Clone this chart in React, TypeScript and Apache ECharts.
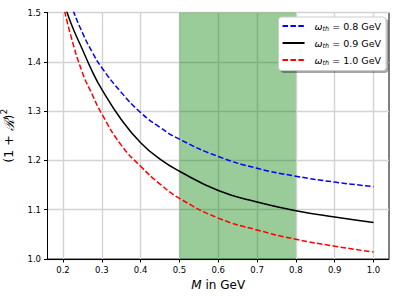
import React, { useEffect, useRef } from "react";
import * as echarts from "echarts";

const massValues = [0.2, 0.22, 0.25, 0.275, 0.3, 0.35, 0.4, 0.45, 0.5, 0.6, 0.7, 0.8, 0.9, 1.0];
const omega08 = [1.565, 1.517, 1.459, 1.42, 1.388, 1.338, 1.297, 1.267, 1.243, 1.208, 1.184, 1.168, 1.156, 1.147];
const omega09 = [1.528, 1.479, 1.425, 1.381, 1.344, 1.283, 1.236, 1.2025, 1.178, 1.139, 1.1155, 1.098, 1.085, 1.074];
const omega10 = [1.518, 1.453, 1.378, 1.334, 1.294, 1.231, 1.188, 1.152, 1.123, 1.083, 1.059, 1.04, 1.026, 1.014];
const seriesNames = ["0.8", "0.9", "1.0"];
const xTicks = [0.2, 0.3, 0.4, 0.5, 0.6, 0.7, 0.8, 0.9, 1.0];
const bandRange = [0.5, 0.8];

const FONT = "DejaVu Sans";

export default function App() {
  const ref = useRef<HTMLDivElement>(null);
  useEffect(() => {
    if (!ref.current) return;
    const chart = echarts.init(ref.current, null, { renderer: "svg" });
    const pairs = (ys: number[]) => massValues.map((m, i) => [m, ys[i]]);
    const lineSeries = (name: string, ys: number[], color: string, dashed: boolean) => ({
      name,
      type: "line",
      data: pairs(ys),
      smooth: 0.5,
      symbol: "none",
      clip: true,
      z: 3,
      lineStyle: { color, width: 1.5, type: dashed ? [5.5, 2.4] : "solid" },
      itemStyle: { color },
    });
    chart.setOption({
      animation: false,
      textStyle: { fontFamily: FONT },
      grid: {
        left: 47.5,
        right: 10,
        top: 12.5,
        bottom: 40,
        containLabel: false,
        outerBoundsMode: "none",
        show: true,
        borderColor: "#000",
        borderWidth: 1,
        backgroundColor: "transparent",
      },
      xAxis: {
        type: "value",
        min: 0.16,
        max: 1.04,
        name: "{i|M} in GeV",
        nameLocation: "middle",
        nameGap: 20,
        nameTextStyle: {
          fontFamily: FONT,
          fontSize: 12,
          color: "#000",
          rich: { i: { fontFamily: FONT, fontSize: 12, fontStyle: "italic", color: "#000" } },
        },
        axisLine: { show: true, onZero: false, lineStyle: { color: "#000", width: 1 } },
        axisTick: { show: true, length: 3.5, customValues: xTicks, lineStyle: { color: "#000" } },
        axisLabel: {
          customValues: xTicks,
          margin: 6,
          fontSize: 8.5,
          fontFamily: FONT,
          color: "#000",
          formatter: (v: number) => v.toFixed(1),
        },
        splitLine: { show: true, lineStyle: { color: "#d3d3d3", width: 1.4 } },
      },
      yAxis: {
        type: "value",
        min: 1.0,
        max: 1.5,
        interval: 0.1,
        name: "(1 + {r|ℛ}){p|2}",
        nameLocation: "middle",
        nameGap: 30,
        nameTextStyle: {
          fontFamily: FONT,
          fontSize: 12.5,
          color: "#000",
          rich: {
            r: { fontFamily: "DejaVu Serif", fontSize: 13.5, fontStyle: "italic", color: "#000", lineHeight: 18 },
            p: { fontFamily: FONT, fontSize: 9, color: "#000", verticalAlign: "top", lineHeight: 18 },
          },
        },
        axisLine: { show: true, onZero: false, lineStyle: { color: "#000", width: 1 } },
        axisTick: { show: true, length: 3.5, lineStyle: { color: "#000" } },
        axisLabel: {
          margin: 6.5,
          fontSize: 8.5,
          fontFamily: FONT,
          color: "#000",
          formatter: (v: number) => v.toFixed(1),
        },
        splitLine: { show: true, lineStyle: { color: "#d3d3d3", width: 1.4 } },
      },
      legend: {
        data: seriesNames,
        orient: "vertical",
        right: 13,
        top: 17,
        itemWidth: 22,
        itemHeight: 10,
        itemGap: 5.5,
        padding: [4, 5, 4, 3],
        backgroundColor: "#fff",
        borderColor: "#cccccc",
        borderWidth: 1,
        borderRadius: 3,
        shadowColor: "rgba(0,0,0,0.35)",
        shadowOffsetX: 2,
        shadowOffsetY: 2,
        shadowBlur: 1,
        itemStyle: { color: "transparent", borderWidth: 0, opacity: 0 },
        formatter: (name: string) => `{w|ω}{s|th}{n| = ${name} GeV}`,
        textStyle: {
          fontFamily: FONT,
          fontSize: 9.5,
          color: "#000",
          rich: {
            w: { fontFamily: FONT, fontSize: 9.5, fontStyle: "italic", lineHeight: 13, color: "#000", padding: [0, 0, 0, 5] },
            s: { fontFamily: FONT, fontSize: 6.5, fontStyle: "italic", lineHeight: 13, verticalAlign: "bottom", color: "#000" },
            n: { fontFamily: FONT, fontSize: 9.5, lineHeight: 13, color: "#000" },
          },
        },
      },
      series: [
        {
          name: "band",
          type: "line",
          data: [],
          z: 1,
          markArea: {
            silent: true,
            itemStyle: { color: "rgba(0,128,0,0.4)" },
            data: [[{ xAxis: bandRange[0] }, { xAxis: bandRange[1] }]],
          },
        },
        lineSeries(seriesNames[0], omega08, "#0000ff", true),
        lineSeries(seriesNames[1], omega09, "#000000", false),
        lineSeries(seriesNames[2], omega10, "#ff0000", true),
      ],
    });
    return () => chart.dispose();
  }, []);
  return <div ref={ref} style={{ width: 399, height: 299, position: "absolute", left: 0, top: 0 }} />;
}
